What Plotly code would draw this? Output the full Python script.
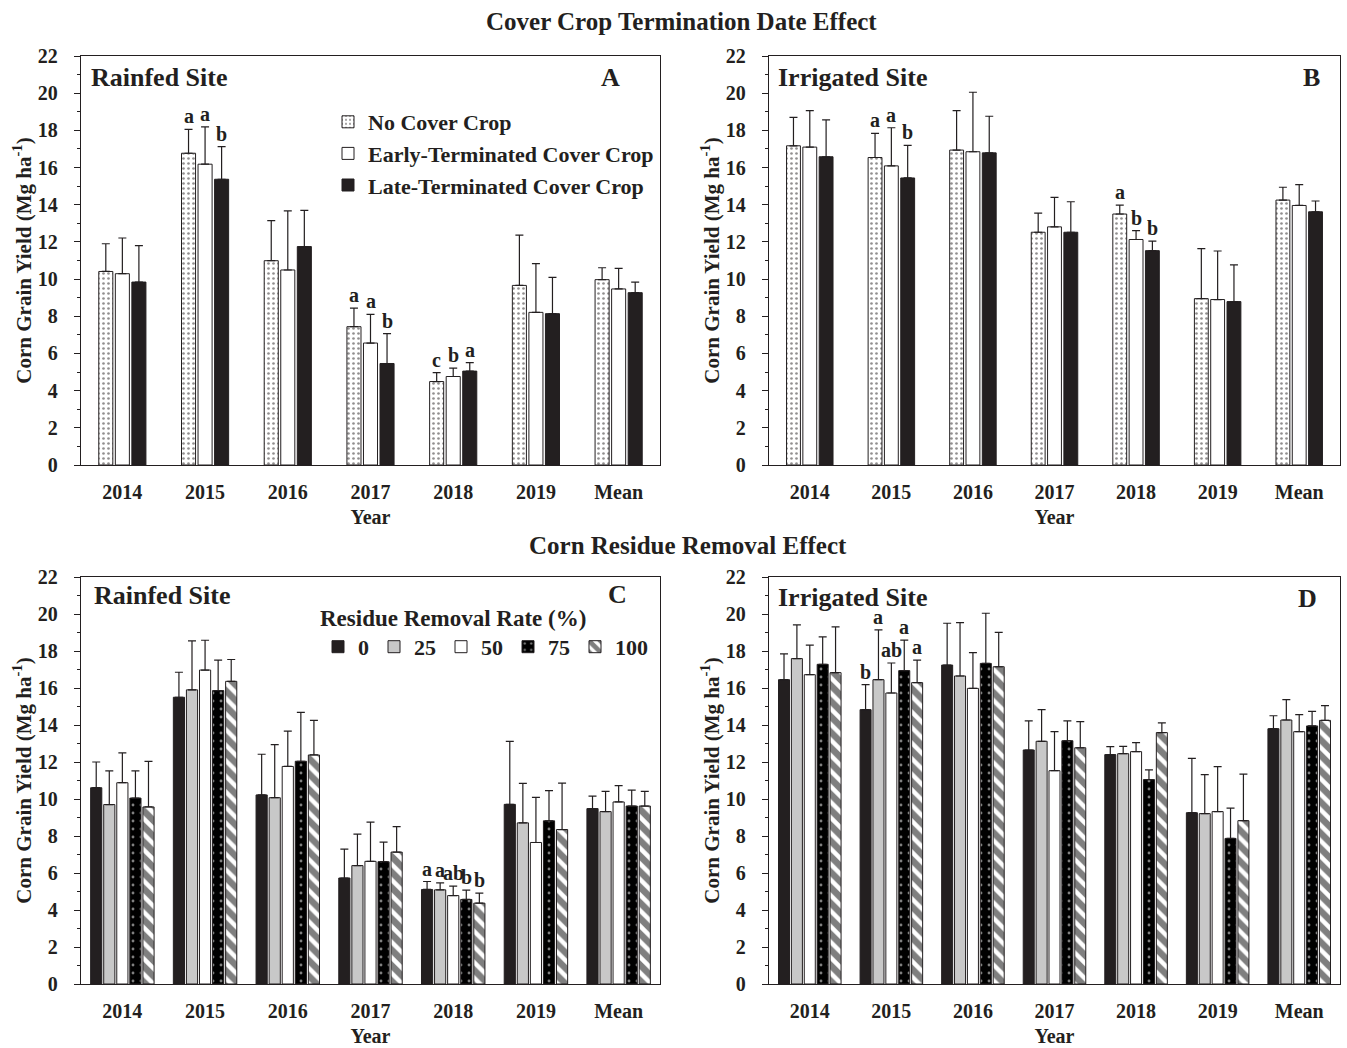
import plotly.graph_objects as go

# ---------------- data ----------------
years = ["2014", "2015", "2016", "2017", "2018", "2019", "Mean"]

cc_names = ["No Cover Crop", "Early-Terminated Cover Crop", "Late-Terminated Cover Crop"]
rr_names = ["0", "25", "50", "75", "100"]

# Panel A - Rainfed, cover crop termination
a_none = [10.41, 16.77, 10.99, 7.44, 4.49, 9.66, 9.97]
a_none_err = [1.49, 1.28, 2.16, 1.00, 0.48, 2.70, 0.64]
a_none_let = ["", "a", "", "a", "c", "", ""]
a_early = [10.29, 16.18, 10.49, 6.56, 4.76, 8.21, 9.47]
a_early_err = [1.92, 2.01, 3.18, 1.54, 0.45, 2.62, 1.11]
a_early_let = ["", "a", "", "a", "b", "", ""]
a_late = [9.84, 15.37, 11.75, 5.46, 5.05, 8.14, 9.27]
a_late_err = [1.96, 1.75, 1.95, 1.61, 0.46, 1.95, 0.57]
a_late_let = ["", "b", "", "b", "a", "", ""]

# Panel B - Irrigated, cover crop termination
b_none = [17.17, 16.54, 16.94, 12.52, 13.50, 8.95, 14.25]
b_none_err = [1.53, 1.30, 2.12, 1.03, 0.48, 2.69, 0.69]
b_none_let = ["", "a", "", "", "a", "", ""]
b_early = [17.10, 16.09, 16.85, 12.81, 12.13, 8.90, 13.96]
b_early_err = [1.96, 2.05, 3.20, 1.59, 0.48, 2.61, 1.12]
b_early_let = ["", "a", "", "", "b", "", ""]
b_late = [16.58, 15.44, 16.79, 12.52, 11.53, 8.79, 13.62]
b_late_err = [1.98, 1.75, 1.97, 1.64, 0.51, 1.98, 0.58]
b_late_let = ["", "b", "", "", "b", "", ""]

# Panel C - Rainfed, residue removal
c_r0 = [10.61, 15.50, 10.22, 5.73, 5.11, 9.71, 9.48]
c_r0_err = [1.39, 1.35, 2.20, 1.56, 0.43, 3.41, 0.68]
c_r0_let = ["", "", "", "", "a", "", ""]
c_r25 = [9.70, 15.90, 10.07, 6.40, 5.09, 8.71, 9.32]
c_r25_err = [1.82, 2.65, 2.87, 1.70, 0.38, 2.13, 1.09]
c_r25_let = ["", "", "", "", "a", "", ""]
c_r50 = [10.88, 16.97, 11.76, 6.63, 4.78, 7.65, 9.84]
c_r50_err = [1.61, 1.61, 1.91, 2.12, 0.51, 2.44, 0.88]
c_r50_let = ["", "", "", "", "ab", "", ""]
c_r75 = [10.05, 15.86, 12.04, 6.61, 4.57, 8.82, 9.62]
c_r75_err = [1.47, 1.65, 2.64, 1.06, 0.50, 1.63, 0.86]
c_r75_let = ["", "", "", "", "b", "", ""]
c_r100 = [9.57, 16.36, 12.38, 7.13, 4.37, 8.35, 9.62]
c_r100_err = [2.46, 1.18, 1.87, 1.38, 0.54, 2.51, 0.79]
c_r100_let = ["", "", "", "", "b", "", ""]

# Panel D - Irrigated, residue removal
d_r0 = [16.45, 14.83, 17.24, 12.65, 12.40, 9.26, 13.80]
d_r0_err = [1.39, 1.35, 2.26, 1.57, 0.43, 2.94, 0.70]
d_r0_let = ["", "b", "", "", "", "", ""]
d_r25 = [17.59, 16.45, 16.65, 13.12, 12.45, 9.21, 14.27]
d_r25_err = [1.82, 2.69, 2.88, 1.71, 0.40, 2.11, 1.10]
d_r25_let = ["", "a", "", "", "", "", ""]
d_r50 = [16.72, 15.73, 15.98, 11.53, 12.56, 9.32, 13.64]
d_r50_err = [1.60, 1.62, 1.93, 2.11, 0.49, 2.43, 0.92]
d_r50_let = ["", "ab", "", "", "", "", ""]
d_r75 = [17.28, 16.94, 17.33, 13.15, 11.05, 7.87, 13.95]
d_r75_err = [1.48, 1.65, 2.71, 1.07, 0.52, 1.64, 0.79]
d_r75_let = ["", "a", "", "", "", "", ""]
d_r100 = [16.83, 16.29, 17.15, 12.77, 13.59, 8.83, 14.25]
d_r100_err = [2.47, 1.22, 1.86, 1.41, 0.52, 2.52, 0.80]
d_r100_let = ["", "a", "", "", "", "", ""]

y_ticks = [0, 2, 4, 6, 8, 10, 12, 14, 16, 18, 20, 22]

# ---------------- styles ----------------
FONT = "Liberation Serif"
W, H = 1347, 1048
INK = "#231f20"


def font(size, color=INK):
    return dict(family=FONT, size=size, color=color, weight="bold")


cc_markers = [
    dict(color="white", pattern=dict(shape=".", fgcolor=INK, bgcolor="white", size=5, solidity=0.22)),
    dict(color="white"),
    dict(color=INK),
]
rr_markers = [
    dict(color=INK),
    dict(color="#c8c8c8"),
    dict(color="white"),
    dict(color="#000000", pattern=dict(shape=".", fgcolor="white", bgcolor="#000000", size=8, solidity=0.1)),
    dict(color="white", pattern=dict(shape="\\", fgcolor="#000000", bgcolor="white", size=11, solidity=0.6)),
]

fig = go.Figure()
annotations = []


def add_panel(series, names, markers, xa, ya, width, slot, legend, show):
    n = len(series)
    for i, (vals, errs, lets) in enumerate(series):
        off = (i - (n - 1) / 2) * slot - width / 2
        m = dict(markers[i])
        m["line"] = dict(color=INK, width=1)
        fig.add_trace(go.Bar(
            x=years, y=vals, name=names[i], width=width, offset=off,
            xaxis=xa, yaxis=ya, marker=m,
            error_y=dict(type="data", array=errs, arrayminus=[0] * len(errs), symmetric=False,
                         color=INK, thickness=1.2, width=4),
            showlegend=show, legend=legend,
            legendgroup=(legend + str(i)) if legend == "legend" else None,
        ))
        for k, t in enumerate(lets):
            if t:
                annotations.append(dict(
                    x=k + (i - (n - 1) / 2) * slot, y=vals[k] + errs[k], text=t,
                    xref=xa, yref=ya, showarrow=False, yanchor="bottom", yshift=0,
                    font=font(20)))


add_panel([(a_none, a_none_err, a_none_let), (a_early, a_early_err, a_early_let),
           (a_late, a_late_err, a_late_let)], cc_names, cc_markers, "x", "y", 0.17, 0.2, "legend", True)
add_panel([(b_none, b_none_err, b_none_let), (b_early, b_early_err, b_early_let),
           (b_late, b_late_err, b_late_let)], cc_names, cc_markers, "x2", "y2", 0.17, 0.2, "legend", False)
add_panel([(c_r0, c_r0_err, c_r0_let), (c_r25, c_r25_err, c_r25_let), (c_r50, c_r50_err, c_r50_let),
           (c_r75, c_r75_err, c_r75_let), (c_r100, c_r100_err, c_r100_let)],
          rr_names, rr_markers, "x3", "y3", 0.135, 0.158, "legend2", True)
add_panel([(d_r0, d_r0_err, d_r0_let), (d_r25, d_r25_err, d_r25_let), (d_r50, d_r50_err, d_r50_let),
           (d_r75, d_r75_err, d_r75_let), (d_r100, d_r100_err, d_r100_let)],
          rr_names, rr_markers, "x4", "y4", 0.135, 0.158, "legend2", False)


def px_x(p):
    return p / W


def px_y(p):
    return 1 - p / H


def xaxis(x0, x1, anchor):
    return dict(domain=[px_x(x0), px_x(x1)], anchor=anchor, type="category",
                categoryorder="array", categoryarray=years, range=[-0.5, 6.5],
                showline=True, linecolor=INK, linewidth=1.3, mirror=True,
                ticks="", showgrid=False, zeroline=False, tickfont=font(20),
                ticklabelstandoff=9, automargin=False,
                title=dict(text="Year", font=font(20), standoff=7))


def yaxis(y0, y1, anchor):
    return dict(domain=[px_y(y1), px_y(y0)], anchor=anchor, range=[0, 22],
                tickvals=y_ticks, ticks="outside", ticklen=6, tickwidth=1.2, tickcolor=INK,
                minor=dict(dtick=1, ticks="outside", ticklen=3, tickwidth=1, tickcolor=INK),
                showline=True, linecolor=INK, linewidth=1.3, mirror=True,
                showgrid=False, zeroline=False, tickfont=font(20), ticklabelstandoff=12,
                automargin=False,
                title=dict(text="Corn Grain Yield (Mg ha<sup>-1</sup>)", font=font(21), standoff=0))


TOP0, BOT0 = 56, 465
TOP1, BOT1 = 577, 984
LX0, LX1 = 81, 660
RX0, RX1 = 769, 1340

panel_text = [
    ("Rainfed Site", 89, 77, "left"), ("A", 610, 77, "center"),
    ("Irrigated Site", 776, 77, "left"), ("B", 1311, 77, "center"),
    ("Rainfed Site", 92, 595, "left"), ("C", 617, 594, "center"),
    ("Irrigated Site", 776, 597, "left"), ("D", 1307, 598, "center"),
]
for txt, px, py, anc in panel_text:
    annotations.append(dict(text=txt, x=px_x(px), y=px_y(py), xref="paper", yref="paper",
                            xanchor=anc, yanchor="middle", showarrow=False, font=font(26)))

annotations.append(dict(text="Cover Crop Termination Date Effect", x=px_x(681), y=px_y(22),
                        xref="paper", yref="paper", xanchor="center", yanchor="middle",
                        showarrow=False, font=font(25)))
annotations.append(dict(text="Corn Residue Removal Effect", x=px_x(688), y=px_y(545),
                        xref="paper", yref="paper", xanchor="center", yanchor="middle",
                        showarrow=False, font=font(25)))

fig.update_layout(
    width=W, height=H, margin=dict(l=0, r=0, t=0, b=0),
    paper_bgcolor="white", plot_bgcolor="white",
    xaxis=xaxis(LX0, LX1, "y"), yaxis=yaxis(TOP0, BOT0, "x"),
    xaxis2=xaxis(RX0, RX1, "y2"), yaxis2=yaxis(TOP0, BOT0, "x2"),
    xaxis3=xaxis(LX0, LX1, "y3"), yaxis3=yaxis(TOP1, BOT1, "x3"),
    xaxis4=xaxis(RX0, RX1, "y4"), yaxis4=yaxis(TOP1, BOT1, "x4"),
    legend=dict(x=px_x(328), y=px_y(101), xanchor="left", yanchor="top",
                bgcolor="rgba(0,0,0,0)", font=font(22), tracegroupgap=0,
                traceorder="normal"),
    legend2=dict(x=px_x(318), y=px_y(596), xanchor="left", yanchor="top",
                 orientation="h", bgcolor="rgba(0,0,0,0)", font=font(22),
                 traceorder="normal",
                 title=dict(text="Residue Removal Rate (%)", side="top", font=font(23))),
    annotations=annotations,
    showlegend=True,
)

fig.write_html("out.html", config={"displayModeBar": False},
               post_script="document.body.style.margin='0';")
